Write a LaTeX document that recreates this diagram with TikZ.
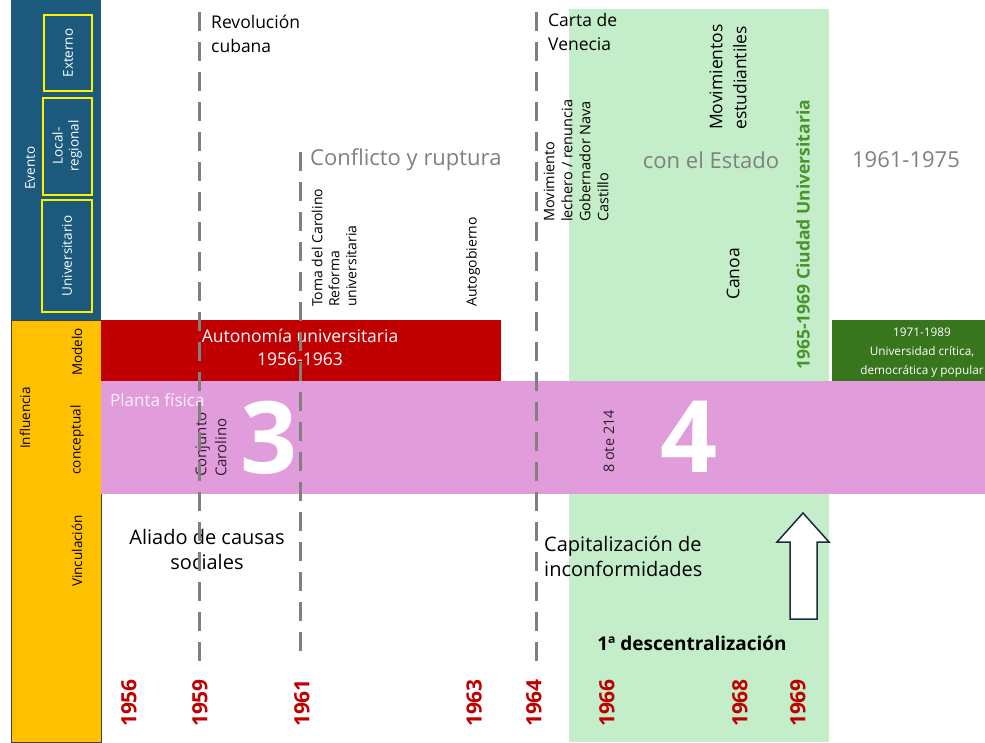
\documentclass[tikz,border=0pt]{standalone}
\usepackage{fontspec}
\setmainfont{Open Sans}
\definecolor{eventoblue}{RGB}{27,90,124}
\definecolor{influyellow}{RGB}{255,192,0}
\definecolor{modelred}{RGB}{192,0,0}
\definecolor{plantapink}{RGB}{225,157,219}
\definecolor{periodgreen}{RGB}{196,238,201}
\definecolor{modelgreen}{RGB}{56,118,29}
\definecolor{cugreen}{RGB}{72,148,42}
\definecolor{linegray}{RGB}{128,128,128}
\definecolor{arrowline}{RGB}{30,42,60}
\begin{document}
\begin{tikzpicture}[x=1pt,y=-1pt,
    fs/.style 2 args={font=\fontsize{#1}{#2}\selectfont},
    vtext/.style={rotate=90, anchor=west, align=left, inner sep=0pt},
    sidelbl/.style={rotate=90, inner sep=0pt, fs={13.5}{16}},
    yearlbl/.style={rotate=90, inner sep=0pt, text=modelred, font=\fontsize{21}{21}\selectfont\bfseries},
    heading/.style={inner sep=0pt, text=linegray, fs={22}{26}},
    bignum/.style={inner sep=0pt, text=white, font=\fontsize{100}{100}\selectfont\bfseries},
    period/.style={linegray, line width=3pt, dash pattern=on 19pt off 11pt},
    evbox/.style={yellow, line width=2pt}]
  \useasboundingbox (0,0) rectangle (985,742);
  % Side panels
  \fill[eventoblue] (11,0) rectangle (101,320);
  \filldraw[fill=influyellow, draw=black!75, line width=1pt] (11,320) rectangle (101,742);
  \draw[evbox] (44,15) rectangle (92,91);
  \draw[evbox] (43,98) rectangle (92,195);
  \draw[evbox] (42,200) rectangle (92,312);
  \node[sidelbl, text=white] (evento) at (30,168) {Evento};
  \node[sidelbl, text=white] (externo) at (68,53) {Externo};
  \node[sidelbl, text=white, align=center] (local) at (67,146) {Local-\\regional};
  \node[sidelbl, text=white] (univ) at (67,256) {Universitario};
  \node[sidelbl] (influencia) at (25,418) {Influencia};
  \node[sidelbl] (modelo) at (77,352) {Modelo};
  \node[sidelbl] (conceptual) at (77,440) {conceptual};
  \node[sidelbl] (vinculacion) at (77,551) {Vinculación};
  % Bands
  \fill[periodgreen] (569,9) rectangle (829,742);
  \fill[modelred] (101,320) rectangle (501,381);
  \fill[modelgreen] (832,320) rectangle (985,381);
  \fill[plantapink] (101,381) rectangle (985,494);
  \node[inner sep=0pt, text=white, align=center, fs={17.5}{23}] (autonomia) at (300,347) {Autonomía universitaria\\1956-1963};
  \node[inner sep=0pt, text=white, align=center, fs={11.8}{19}] (critica) at (922,353) {1971-1989\\Universidad crítica,\\democrática y popular};
  \node[inner sep=0pt, anchor=west, text=white!85!plantapink, fs={17}{20}] (planta) at (110,400) {Planta física};
  \node[bignum] (tres) at (269,438) {3};
  \node[bignum] (cuatro) at (689,437) {4};
  \node[vtext, text=black!80!plantapink, fs={15}{20}] (carolino) at (211,477) {Conjunto\\Carolino};
  \node[vtext, text=black!80!plantapink, fs={14.5}{18}] (ote) at (609,473) {8 ote 214};
  % Headings
  \node[heading, anchor=west] (conflicto) at (310,160) {Conflicto y ruptura};
  \node[heading] (estado) at (711,160) {con el Estado};
  \node[heading] (periodo) at (906,160) {1961-1975};
  \node[inner sep=0pt, anchor=west, align=left, fs={17.5}{24}] (revolucion) at (211,34) {Revolución\\cubana};
  \node[inner sep=0pt, anchor=west, align=left, fs={17.5}{24}] (venecia) at (548,32) {Carta de\\Venecia};
  % Events
  \node[vtext, fs={14}{17}] (toma) at (334,307) {Toma del Carolino\\Reforma\\universitaria};
  \node[vtext, fs={14}{17}] (autogobierno) at (473,307) {Autogobierno};
  \node[vtext, fs={14.5}{18}] (lechero) at (576,222) {Movimiento\\lechero / renuncia\\Gobernador Nava\\Castillo};
  \node[vtext, fs={17.5}{24}] (estudiantes) at (728,130) {Movimientos\\estudiantiles};
  \node[vtext, fs={17.5}{20}] (canoa) at (733,300) {Canoa};
  \node[vtext, text=cugreen, font=\fontsize{17.5}{20}\selectfont\bfseries] (ciudad) at (803,370) {1965-1969 Ciudad Universitaria};
  % Vinculacion
  \node[inner sep=0pt, align=center, fs={20}{25}] (aliado) at (207,549) {Aliado de causas\\sociales};
  \node[inner sep=0pt, anchor=west, align=left, fs={20}{25}] (capital) at (544,556) {Capitalización de\\inconformidades};
  \filldraw[fill=white, draw=arrowline, line width=1.5pt, line join=miter]
    (790,619) -- (790,542) -- (777,542) -- (803,513) -- (829,542) -- (817,542) -- (817,619) -- cycle; % Up arrow
  \node[inner sep=0pt, font=\fontsize{19}{21}\selectfont\bfseries] (descentral) at (692,643) {1ª descentralización};
  % Dashed year lines
  \draw[period] (199,12) -- (199,662);
  \draw[period] (300,152) -- (300,662);
  \draw[period] (536,12) -- (536,662);
  % Years
  \node[yearlbl] (y56) at (129,703) {1956};
  \node[yearlbl] (y59) at (200,703) {1959};
  \node[yearlbl] (y61) at (302,703) {1961};
  \node[yearlbl] (y63) at (474,703) {1963};
  \node[yearlbl] (y64) at (534,703) {1964};
  \node[yearlbl] (y66) at (607,703) {1966};
  \node[yearlbl] (y68) at (740,703) {1968};
  \node[yearlbl] (y69) at (798,703) {1969};
\end{tikzpicture}
\end{document}
